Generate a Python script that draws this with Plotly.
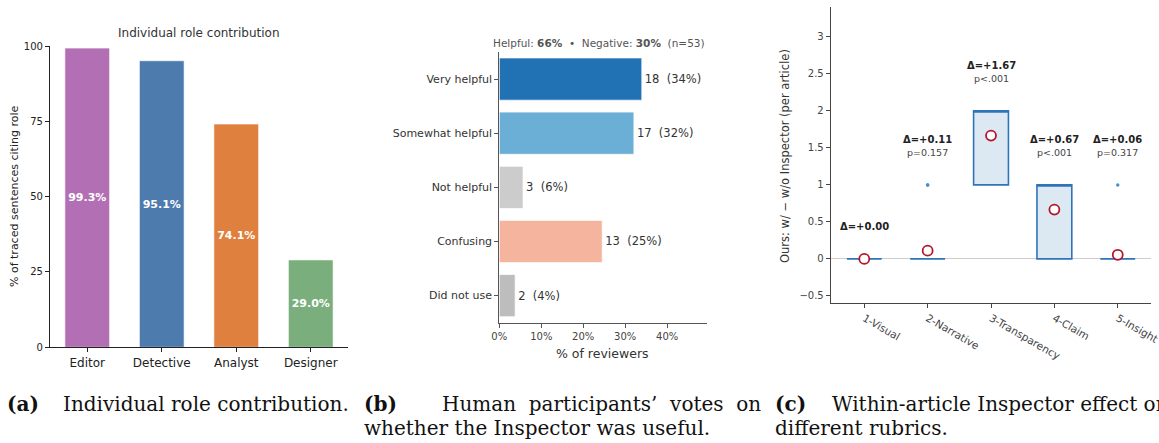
import plotly.graph_objects as go

W, H = 1159, 443

# ---------------- data ----------------
# Panel (a)
roles = ["Editor", "Detective", "Analyst", "Designer"]
role_pct = [99.3, 95.1, 74.1, 29.0]
role_colors = ["#b36fb4", "#4e7bae", "#e0803f", "#7aae7d"]

# Panel (b)
vote_cats = ["Very helpful", "Somewhat helpful", "Not helpful", "Confusing", "Did not use"]
vote_counts = [18, 17, 3, 13, 2]
n_reviewers = 53
vote_colors = ["#2171b5", "#6baed6", "#cccccc", "#f4b49e", "#bdbdbd"]
pct_ticks = [0, 10, 20, 30, 40]

# Panel (c): per-article difference (w/ - w/o Inspector), 18 articles
rubrics = ["1-Visual", "2-Narrative", "3-Transparency", "4-Claim", "5-Insight"]
diff_visual = [0, 0, 0, 0, 0, 0, 0, 0, 0, 0, 0, 0, 0, 0, 0, 0, 0, 0]
diff_narrative = [0, 0, 0, 0, 1, 0, 0, 0, 0, 0, 0, 0, 0, 1, 0, 0, 0, 0]
diff_transparency = [2, 2, 1, 2, 2, 1, 2, 2, 1, 2, 2, 1, 2, 2, 1, 2, 2, 1]
diff_claim = [1, 1, 0, 1, 1, 0, 1, 1, 0, 1, 1, 0, 1, 1, 0, 1, 1, 0]
diff_insight = [0, 0, 0, 0, 0, 0, 0, 0, 0, 0, 1, 0, 0, 0, 0, 0, 0, 0]
p_labels = ["", "p=0.157", "p<.001", "p<.001", "p=0.317"]

diffs = [diff_visual, diff_narrative, diff_transparency, diff_claim, diff_insight]
means = [sum(d) / len(d) for d in diffs]


def px_x(v):
    return v / W


def px_y(v):
    return 1 - v / H


SANS = "DejaVu Sans"
SERIF = "DejaVu Serif"

fig = go.Figure()

# ---------------- panel (a) ----------------
fig.add_trace(go.Bar(
    x=roles, y=role_pct, width=0.6,
    marker=dict(color=role_colors, line=dict(color="rgba(255,255,255,0.6)", width=1)),
    text=[f"{v:.1f}%" for v in role_pct], textposition="inside",
    insidetextanchor="middle", textangle=0, constraintext="none",
    textfont=dict(family=SANS, size=11, color="white", weight="bold"),
    xaxis="x", yaxis="y", showlegend=False, hoverinfo="skip",
))

# ---------------- panel (b) ----------------
vote_pct = [c / n_reviewers * 100 for c in vote_counts]
fig.add_trace(go.Bar(
    x=vote_pct, y=vote_cats, orientation="h", width=0.78,
    marker=dict(color=vote_colors, line=dict(color="rgba(255,255,255,0.7)", width=1)),
    text=[f"{c}\u00a0\u00a0({p:.0f}%)" for c, p in zip(vote_counts, vote_pct)],
    textposition="outside", constraintext="none", cliponaxis=False,
    textfont=dict(family=SANS, size=11.5, color="#333333"),
    xaxis="x2", yaxis="y2", showlegend=False, hoverinfo="skip",
))

# ---------------- panel (c) ----------------
for name, d in zip(rubrics, diffs):
    fig.add_trace(go.Box(
        x=[name] * len(d), y=d, width=0.55,
        fillcolor="#dce8f2", line=dict(color="#2f74b8", width=1.6),
        marker=dict(color="#4a90d0", size=3.5),
        boxpoints="outliers", whiskerwidth=0.0,
        xaxis="x3", yaxis="y3", showlegend=False, hoverinfo="skip",
    ))
fig.add_trace(go.Scatter(
    x=rubrics, y=means, mode="markers",
    marker=dict(symbol="circle", size=10, color="white",
                line=dict(color="#b2182b", width=1.8)),
    xaxis="x3", yaxis="y3", showlegend=False, hoverinfo="skip", cliponaxis=False,
))

annotations = []
for name, d, m, p in zip(rubrics, diffs, means, p_labels):
    top = max(d)
    if p:
        annotations.append(dict(x=name, y=top + 0.44, xref="x3", yref="y3", text=p,
                                xanchor="center", yanchor="middle",
                                showarrow=False, font=dict(family=SANS, size=9.5, color="#444444")))
        dy = top + 0.61
    else:
        dy = top + 0.44
    annotations.append(dict(x=name, y=dy, xref="x3", yref="y3", text=f"<b>Δ=+{m:.2f}</b>",
                            xanchor="center", yanchor="middle",
                            showarrow=False, font=dict(family=SANS, size=10, color="#222222")))

# titles / headers
helpful = (vote_counts[0] + vote_counts[1]) / n_reviewers * 100
negative = (vote_counts[2] + vote_counts[3]) / n_reviewers * 100
paper_texts = [
    (199, 33, "Individual role contribution", 12, "#333333", 0),
    (14, 197, "% of traced sentences citing role", 11, "#222222", -90),
    (599, 43, (f"Helpful: <b>{helpful:.0f}%</b>\u00a0\u00a0•\u00a0\u00a0Negative: "
               f"<b>{negative:.0f}%</b>\u00a0\u00a0(n={n_reviewers})"), 10.5, "#555555", 0),
    (603, 353, "% of reviewers", 12.5, "#333333", 0),
    (785, 156, "Ours: w/ − w/o Inspector (per article)", 11.5, "#333333", -90),
]
for cx, cy, t, s, c, ang in paper_texts:
    annotations.append(dict(x=px_x(cx), y=px_y(cy), xref="paper", yref="paper", text=t,
                            xanchor="center", yanchor="middle", textangle=ang,
                            showarrow=False, font=dict(family=SANS, size=s, color=c)))

# captions
cap_font = dict(family=SERIF, size=20, color="#111111")
captions = [
    (5, 404, "<b>(a)</b>"), (61, 404, "Individual role contribution."),
    (362, 404, "<b>(b)</b>"), (440, 404, "Human\u00a0 participants’\u00a0 votes\u00a0 on"),
    (362, 428, "whether the Inspector was useful."),
    (773, 404, "<b>(c)</b>"), (830, 404, "Within-article Inspector effect on"),
    (773, 428, "different rubrics."),
]
for cx, cy, t in captions:
    annotations.append(dict(x=px_x(cx), y=px_y(cy), xref="paper", yref="paper", text=t,
                            xanchor="left", yanchor="middle", showarrow=False, font=cap_font))

axis_common = dict(showgrid=False, zeroline=False, showline=True, ticks="outside", ticklen=4,
                   automargin=False)

fig.update_layout(
    width=W, height=H,
    margin=dict(l=0, r=0, t=0, b=0, pad=0, autoexpand=False),
    paper_bgcolor="white", plot_bgcolor="white",
    font=dict(family=SANS, color="#333333"),
    barmode="overlay", boxmode="overlay",
    annotations=annotations,
    # panel (a)
    xaxis=dict(axis_common, domain=[px_x(50), px_x(348)], anchor="y", range=[-0.5, 3.5],
               linecolor="#222222", tickcolor="#222222", linewidth=1.2,
               tickfont=dict(family=SANS, size=12, color="#222222")),
    yaxis=dict(axis_common, domain=[px_y(347.3), px_y(46)], anchor="x", range=[0, 100],
               tickvals=[0, 25, 50, 75, 100], linecolor="#222222", tickcolor="#222222",
               linewidth=1.2, tickfont=dict(family=SANS, size=10, color="#222222")),
    # panel (b)
    xaxis2=dict(axis_common, domain=[px_x(499.3), px_x(707)], anchor="y2", range=[0, 49.5],
                tickvals=pct_ticks, ticktext=[f"{v}%" for v in pct_ticks], linecolor="#555555",
                tickcolor="#555555", tickfont=dict(family=SANS, size=10, color="#444444")),
    yaxis2=dict(axis_common, domain=[px_y(322.7), px_y(52)], anchor="x2", range=[4.5, -0.5],
                categoryorder="array", categoryarray=vote_cats, linecolor="#555555",
                tickcolor="#555555", tickfont=dict(family=SANS, size=11, color="#333333")),
    # panel (c)
    xaxis3=dict(axis_common, domain=[px_x(830.7), px_x(1150.7)], anchor="y3",
                range=[-0.53, 4.52], tickangle=30, linecolor="#444444", tickcolor="#444444",
                tickfont=dict(family=SANS, size=10.5, color="#444444")),
    yaxis3=dict(axis_common, domain=[px_y(303.3), px_y(7.3)], anchor="x3", range=[-0.6, 3.4],
                dtick=0.5, tick0=0, zeroline=True, zerolinecolor="#cccccc", zerolinewidth=1,
                linecolor="#444444", tickcolor="#444444",
                tickfont=dict(family=SANS, size=10, color="#444444")),
)

fig.write_html(
    "out.html",
    config={"displayModeBar": False},
    post_script="document.body.style.margin='0';document.body.style.overflow='hidden';",
)
